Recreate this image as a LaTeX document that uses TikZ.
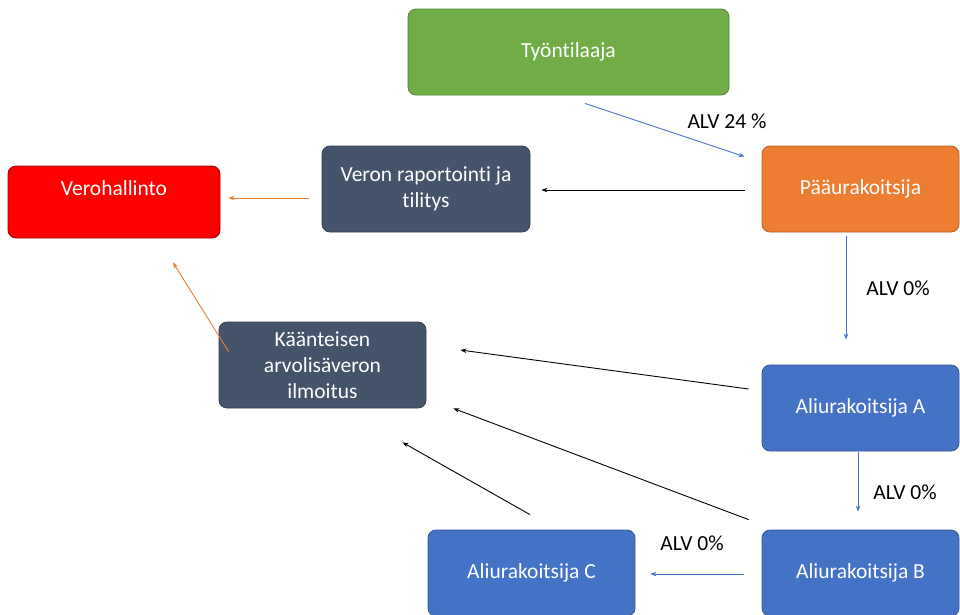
\documentclass[tikz,border=0pt]{standalone}
\usepackage{fontspec}
\setmainfont{Carlito}[Ligatures=NoCommon]
\usetikzlibrary{arrows.meta,calc}
\definecolor{cgreen}{HTML}{70AD47}
\definecolor{corange}{HTML}{ED7D31}
\definecolor{cslate}{HTML}{44546A}
\definecolor{cred}{HTML}{FF0000}
\definecolor{cblue}{HTML}{4472C4}
\tikzset{
  box/.style={rectangle, rounded corners=8pt, line width=0.8pt, text=white, align=center,
    font=\fontsize{21.5}{26}\selectfont, inner sep=2pt},
  greenbox/.style={box, fill=cgreen, draw=cgreen!75!black},
  orangebox/.style={box, fill=corange, draw=corange!75!black},
  slatebox/.style={box, fill=cslate, draw=cslate!75!black},
  redbox/.style={box, fill=cred, draw=cred!60!black},
  bluebox/.style={box, fill=cblue, draw=cblue!75!black},
  arr/.style={line width=0.9pt, -{Stealth[length=6pt,width=4.5pt]}},
  lbl/.style={font=\fontsize{21.5}{26}\selectfont, text=black},
}
\begin{document}
\begin{tikzpicture}[x=1pt,y=-1pt]
\useasboundingbox (0,0) rectangle (960,614);
\node[greenbox, minimum width=321, minimum height=86] (ty) at (568.5,52) {Työntilaaja};
\node[orangebox, minimum width=197, minimum height=86] (pa) at (860.5,189) {Pääurakoitsija};
\node[slatebox, minimum width=208, minimum height=86] (vr) at (426,189) {Veron raportointi ja\\tilitys};
\node[redbox, minimum width=212, minimum height=72, text depth=28pt] (vh) at (114,202) {Verohallinto};
\node[slatebox, minimum width=207, minimum height=86] (ka) at (322.5,365) {Käänteisen\\arvolisäveron\\ilmoitus};
\node[bluebox, minimum width=197, minimum height=86] (aa) at (860.5,408) {Aliurakoitsija A};
\node[bluebox, minimum width=197, minimum height=86] (ab) at (860.5,573) {Aliurakoitsija B};
\node[bluebox, minimum width=207, minimum height=86] (ac) at (531.5,573) {Aliurakoitsija C};

\coordinate (t1) at ($(ty.south)+(16.5,8)$);
\coordinate (t2) at ($(pa.north west)+(-17,11)$);
\draw[arr, cblue] (t1) -- (t2);
\node[lbl] (l1) at (727,121) {ALV 24 \%};

\draw[arr, black] ($(pa.west)+(-17,1)$) -- ($(vr.east)+(11,1)$);
\draw[arr, corange] ($(vr.west)+(-13,9)$) -- ($(vh.east)+(8,-4)$);
\draw[arr, corange] ($(ka.north west)+(10,30)$) -- ($(vh.south)+(59,24)$);

\draw[arr, cblue] ($(pa.south)+(-14.5,4)$) -- ($(aa.north)+(-14.5,-25)$);
\node[lbl] (l2) at (898,288) {ALV 0\%};

\draw[arr, black] ($(aa.west)+(-13,-19)$) -- ($(ka.east)+(34,-15)$);
\draw[arr, cblue] ($(aa.south)+(-2.5,1)$) -- ($(ab.north)+(-2.5,-18)$);
\node[lbl] (l3) at (905,492) {ALV 0\%};

\draw[arr, black] ($(ab.north west)+(-13,-10)$) -- ($(ka.south east)+(27,0)$);
\draw[arr, black] ($(ac.north)+(-1.5,-15)$) -- ($(ka.south)+(80,34)$);
\draw[arr, cblue] ($(ab.west)+(-18,1)$) -- ($(ac.east)+(15,1)$);
\node[lbl] (l4) at (692,543) {ALV 0\%};
\end{tikzpicture}
\end{document}
